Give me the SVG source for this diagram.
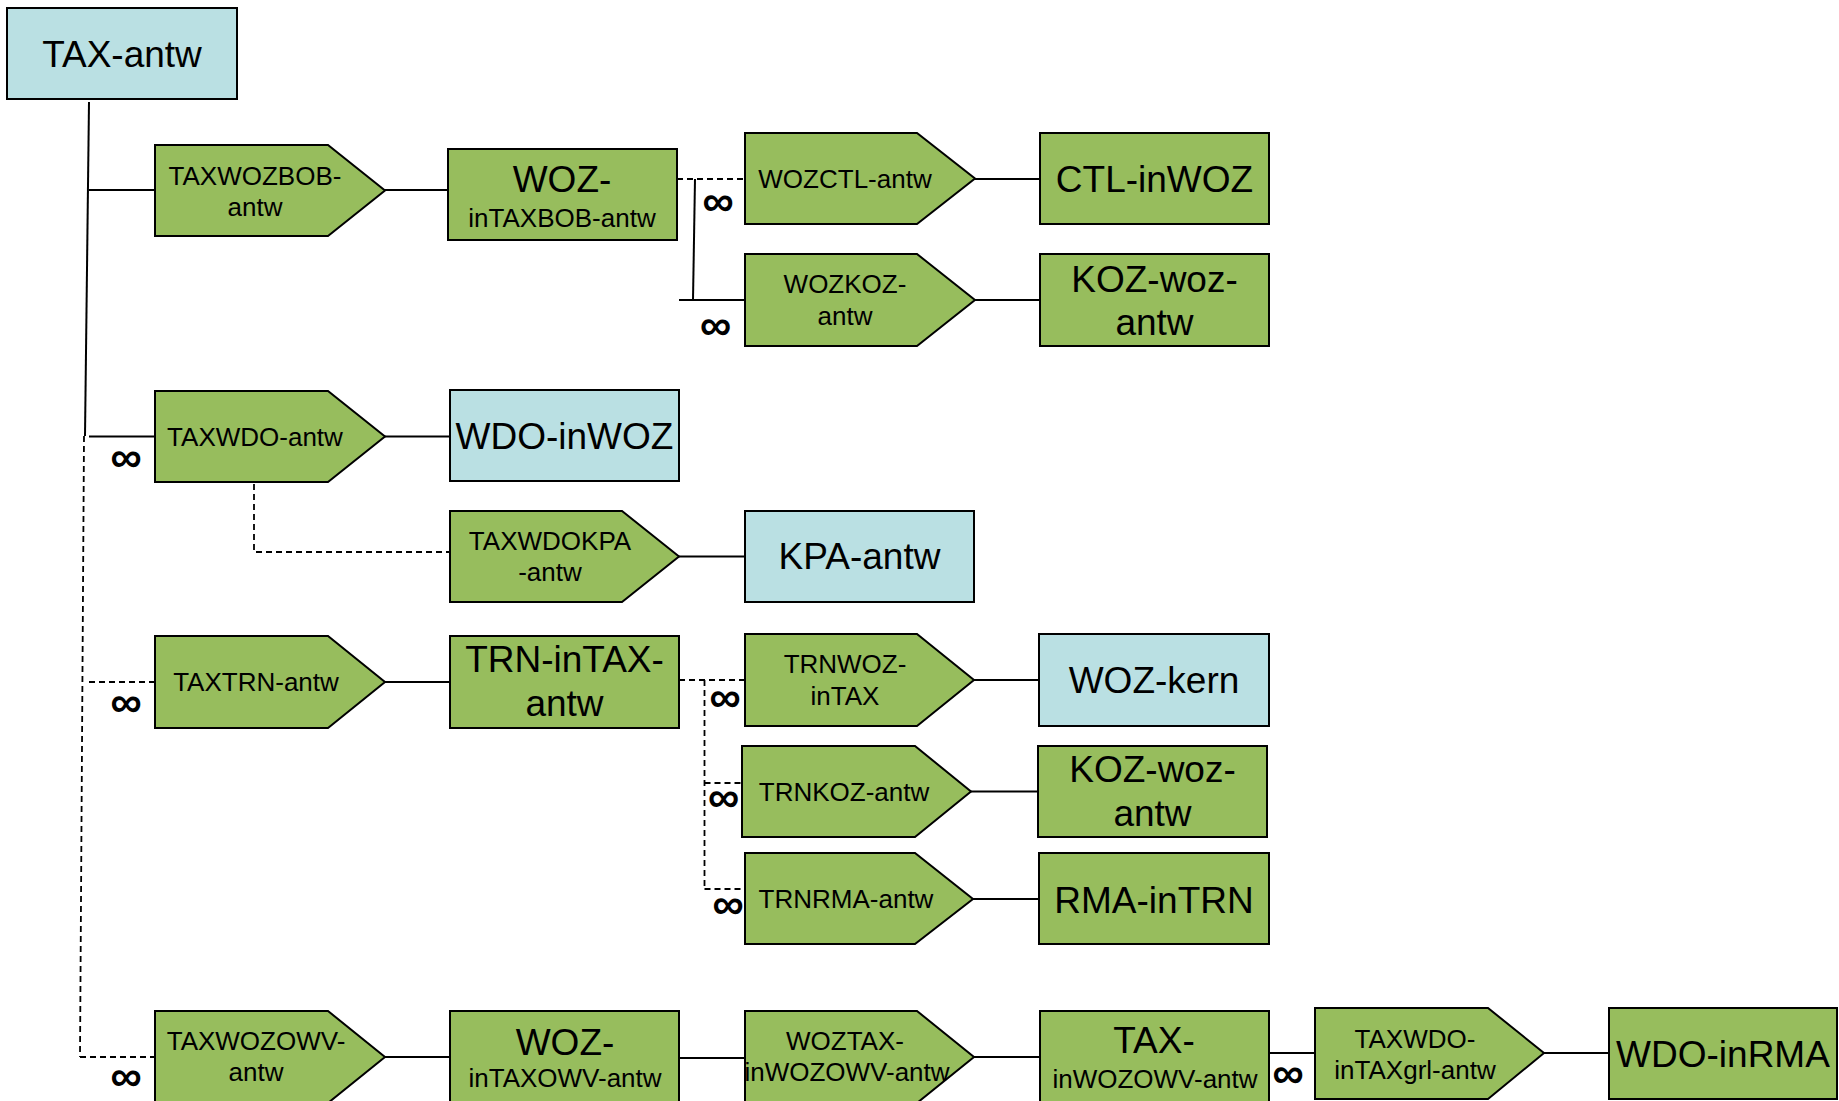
<svg xmlns="http://www.w3.org/2000/svg" width="1839" height="1101" viewBox="0 0 1839 1101">
<style>
.g{fill:#97bd5d;stroke:#000;stroke-width:2}
.b{fill:#bae0e3;stroke:#000;stroke-width:2}
text{font-family:"Liberation Sans",Arial,sans-serif;fill:#000;text-anchor:middle}
.s{font-size:26px}
.l{font-size:37px}
.inf{font-size:44px;font-weight:bold}
.c{stroke:#000;stroke-width:2;fill:none}
.d{stroke:#000;stroke-width:1.8;fill:none;stroke-dasharray:6 4}
</style>
<rect width="1839" height="1101" fill="#fff"/>
<g id="connectors">
<path class="c" d="M89 102 L85 436"/>
<path class="d" d="M84 436 L80 1057"/>
<path class="c" d="M89 190 H155"/>
<path class="c" d="M385 190 H448"/>
<path class="d" d="M677 179 H745"/>
<path class="c" d="M695 179 L693 300"/>
<path class="c" d="M679 300 H745"/>
<path class="c" d="M975 179 H1040"/>
<path class="c" d="M975 300 H1040"/>
<path class="c" d="M89 436.5 H155"/>
<path class="c" d="M385 436.5 H450"/>
<path class="d" d="M254 484 V552 H450"/>
<path class="c" d="M679 556.5 H745"/>
<path class="d" d="M89 682 H155"/>
<path class="c" d="M385 682 H450"/>
<path class="d" d="M679 680 H745"/>
<path class="d" d="M704.5 680 V889"/>
<path class="d" d="M704.5 783 H742"/>
<path class="d" d="M704.5 889 H745"/>
<path class="c" d="M974 680 H1039"/>
<path class="c" d="M971 791.5 H1038"/>
<path class="c" d="M973 899 H1039"/>
<path class="d" d="M80 1057 H155"/>
<path class="c" d="M385 1057 H450"/>
<path class="c" d="M679 1058 H745"/>
<path class="c" d="M974 1057 H1040"/>
<path class="c" d="M1269 1053 H1315"/>
<path class="c" d="M1544 1053 H1609"/>
<text class="inf" x="718" y="216">∞</text>
<text class="inf" x="715.5" y="340">∞</text>
<text class="inf" x="126" y="472">∞</text>
<text class="inf" x="126" y="717">∞</text>
<text class="inf" x="725" y="712">∞</text>
<text class="inf" x="723.5" y="812">∞</text>
<text class="inf" x="728" y="919">∞</text>
<text class="inf" x="126" y="1091">∞</text>
<text class="inf" x="1288" y="1088">∞</text>
</g>
<g id="n-tax-antw"><rect class="b" x="7" y="8" width="230" height="91"/><text class="l" x="122" y="67">TAX-antw</text></g>
<g id="n-taxwozbob"><polygon class="g" points="155,145 328,145 385,190.5 328,236 155,236"/><text class="s" x="255" y="185">TAXWOZBOB-</text><text class="s" x="255" y="216">antw</text></g>
<g id="n-woz-intaxbob"><rect class="g" x="448" y="149" width="229" height="91"/><text class="l" x="562" y="192">WOZ-</text><text class="s" x="562" y="227">inTAXBOB-antw</text></g>
<g id="n-wozctl"><polygon class="g" points="745,133 917,133 975,178.5 917,224 745,224"/><text class="s" x="845" y="188">WOZCTL-antw</text></g>
<g id="n-ctl-inwoz"><rect class="g" x="1040" y="133" width="229" height="91"/><text class="l" x="1154.5" y="192">CTL-inWOZ</text></g>
<g id="n-wozkoz"><polygon class="g" points="745,254 917,254 975,300 917,346 745,346"/><text class="s" x="845" y="293">WOZKOZ-</text><text class="s" x="845" y="325">antw</text></g>
<g id="n-koz-woz-1"><rect class="g" x="1040" y="254" width="229" height="92"/><text class="l" x="1154.5" y="292">KOZ-woz-</text><text class="l" x="1154.5" y="335">antw</text></g>
<g id="n-taxwdo"><polygon class="g" points="155,391 328,391 385,436.5 328,482 155,482"/><text class="s" x="255" y="446">TAXWDO-antw</text></g>
<g id="n-wdo-inwoz"><rect class="b" x="450" y="390" width="229" height="91"/><text class="l" x="564.5" y="449">WDO-inWOZ</text></g>
<g id="n-taxwdokpa"><polygon class="g" points="450,511 622,511 679,556.5 622,602 450,602"/><text class="s" x="550" y="550">TAXWDOKPA</text><text class="s" x="550" y="581">-antw</text></g>
<g id="n-kpa-antw"><rect class="b" x="745" y="511" width="229" height="91"/><text class="l" x="859.5" y="569">KPA-antw</text></g>
<g id="n-taxtrn"><polygon class="g" points="155,636 328,636 385,682 328,728 155,728"/><text class="s" x="256" y="691">TAXTRN-antw</text></g>
<g id="n-trn-intax"><rect class="g" x="450" y="636" width="229" height="92"/><text class="l" x="564.5" y="672">TRN-inTAX-</text><text class="l" x="564.5" y="716">antw</text></g>
<g id="n-trnwoz"><polygon class="g" points="745,634 917,634 974,680 917,726 745,726"/><text class="s" x="845" y="673">TRNWOZ-</text><text class="s" x="845" y="705">inTAX</text></g>
<g id="n-woz-kern"><rect class="b" x="1039" y="634" width="230" height="92"/><text class="l" x="1154" y="693">WOZ-kern</text></g>
<g id="n-trnkoz"><polygon class="g" points="742,746 915,746 971,791.5 915,837 742,837"/><text class="s" x="844" y="801">TRNKOZ-antw</text></g>
<g id="n-koz-woz-2"><rect class="g" x="1038" y="746" width="229" height="91"/><text class="l" x="1152.5" y="782">KOZ-woz-</text><text class="l" x="1152.5" y="826">antw</text></g>
<g id="n-trnrma"><polygon class="g" points="745,853 915,853 973,899 915,944 745,944"/><text class="s" x="846" y="908">TRNRMA-antw</text></g>
<g id="n-rma-intrn"><rect class="g" x="1039" y="853" width="230" height="91"/><text class="l" x="1154" y="913">RMA-inTRN</text></g>
<g id="n-taxwozowv"><polygon class="g" points="155,1011 328,1011 385,1057 328,1103 155,1103"/><text class="s" x="256" y="1050">TAXWOZOWV-</text><text class="s" x="256" y="1081">antw</text></g>
<g id="n-woz-intaxowv"><rect class="g" x="450" y="1011" width="229" height="92"/><text class="l" x="565" y="1055">WOZ-</text><text class="s" x="565" y="1087">inTAXOWV-antw</text></g>
<g id="n-woztax"><polygon class="g" points="745,1011 917,1011 974,1057 917,1103 745,1103"/><text class="s" x="845" y="1050">WOZTAX-</text><text class="s" x="847" y="1081">inWOZOWV-antw</text></g>
<g id="n-tax-inwozowv"><rect class="g" x="1040" y="1011" width="229" height="92"/><text class="l" x="1154" y="1053">TAX-</text><text class="s" x="1155" y="1088">inWOZOWV-antw</text></g>
<g id="n-taxwdo-intaxgrl"><polygon class="g" points="1315,1008 1488,1008 1544,1053 1488,1099 1315,1099"/><text class="s" x="1415" y="1048">TAXWDO-</text><text class="s" x="1415" y="1079">inTAXgrl-antw</text></g>
<g id="n-wdo-inrma"><rect class="g" x="1609" y="1008" width="228" height="91"/><text class="l" x="1723" y="1067">WDO-inRMA</text></g>
</svg>
